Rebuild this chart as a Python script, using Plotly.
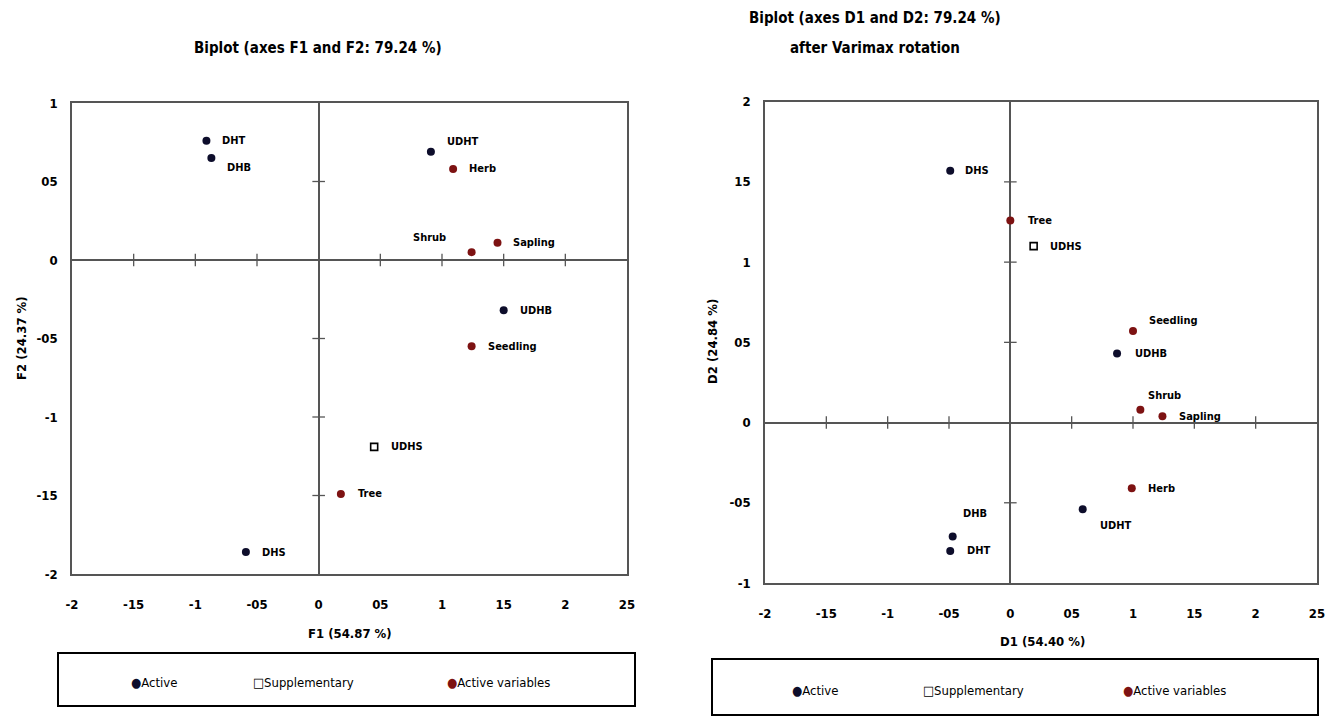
import plotly.graph_objects as go

W, H = 1338, 716

# ---------------- data: left biplot (F1, F2) ----------------
f_active_names = ["DHT", "DHB", "UDHT", "UDHB", "DHS"]
f_active_x = [-0.91, -0.87, 0.91, 1.50, -0.59]
f_active_y = [0.76, 0.65, 0.69, -0.32, -1.86]
f_supp_names = ["UDHS"]
f_supp_x = [0.45]
f_supp_y = [-1.19]
f_var_names = ["Herb", "Shrub", "Sapling", "Seedling", "Tree"]
f_var_x = [1.09, 1.24, 1.45, 1.24, 0.18]
f_var_y = [0.58, 0.05, 0.11, -0.55, -1.49]

# ---------------- data: right biplot (D1, D2) ----------------
d_active_names = ["DHS", "UDHB", "UDHT", "DHB", "DHT"]
d_active_x = [-0.49, 0.87, 0.59, -0.47, -0.49]
d_active_y = [1.57, 0.43, -0.54, -0.71, -0.80]
d_supp_names = ["UDHS"]
d_supp_x = [0.19]
d_supp_y = [1.10]
d_var_names = ["Tree", "Seedling", "Shrub", "Sapling", "Herb"]
d_var_x = [0.00, 1.00, 1.06, 1.24, 0.99]
d_var_y = [1.26, 0.57, 0.08, 0.04, -0.41]

# ---------------- tick labels ----------------
x_tick_vals = [-2, -1.5, -1, -0.5, 0, 0.5, 1, 1.5, 2, 2.5]
x_tick_text = ["-2", "-15", "-1", "-05", "0", "05", "1", "15", "2", "25"]
f_y_tick_vals = [-2, -1.5, -1, -0.5, 0, 0.5, 1]
f_y_tick_text = ["-2", "-15", "-1", "-05", "0", "05", "1"]
d_y_tick_vals = [-1, -0.5, 0, 0.5, 1, 1.5, 2]
d_y_tick_text = ["-1", "-05", "0", "05", "1", "15", "2"]

legend_labels = ["Active", "Supplementary", "Active variables"]

# ---------------- styles ----------------
FONT = "DejaVu Sans Condensed, Liberation Sans Narrow, Arial Narrow, sans-serif"
C_ACTIVE = "#0d0d2b"
C_VAR = "#7d1212"
C_AXIS = "#555555"

# label offsets (px): (xshift, yshift, xanchor)
f_offsets = {
    "DHT": (14, 0, "left"), "DHB": (14, -10, "left"), "UDHT": (14, 10, "left"),
    "UDHB": (14, 0, "left"), "DHS": (14, 0, "left"), "UDHS": (15, 0, "left"),
    "Herb": (14, 0, "left"), "Shrub": (-24, 15, "right"), "Sapling": (13, 0, "left"),
    "Seedling": (14, 0, "left"), "Tree": (15, 0, "left"),
}
d_offsets = {
    "DHS": (13, 0, "left"), "UDHB": (16, 0, "left"), "UDHT": (15, -16, "left"),
    "DHB": (8, 23, "left"), "DHT": (15, 0, "left"), "UDHS": (14, 0, "left"),
    "Tree": (16, 0, "left"), "Seedling": (14, 11, "left"), "Shrub": (6, 14, "left"),
    "Sapling": (15, 0, "left"), "Herb": (14, 0, "left"),
}

def px(x):
    return x / W

def py(y):
    return 1 - y / H

fig = go.Figure()

def add_panel(xa, ya, act, supp, var, yvals, offsets):
    xref = "x" if xa == "xaxis" else "x2"
    yref = "y" if ya == "yaxis" else "y2"
    # tick crosses on zero lines
    xt = [v for v in x_tick_vals if v not in (0, x_tick_vals[0], x_tick_vals[-1])]
    yt = [v for v in yvals if v not in (0, yvals[0], yvals[-1])]
    fig.add_trace(go.Scatter(x=xt, y=[0] * len(xt), xaxis=xref, yaxis=yref, mode="markers",
                             marker=dict(symbol="line-ns", size=9, line=dict(color=C_AXIS, width=1.3)),
                             hoverinfo="skip", showlegend=False))
    fig.add_trace(go.Scatter(x=[0] * len(yt), y=yt, xaxis=xref, yaxis=yref, mode="markers",
                             marker=dict(symbol="line-ew", size=9, line=dict(color=C_AXIS, width=1.3)),
                             hoverinfo="skip", showlegend=False))
    names, xs, ys = act
    fig.add_trace(go.Scatter(x=xs, y=ys, xaxis=xref, yaxis=yref, mode="markers",
                             marker=dict(color=C_ACTIVE, size=8), showlegend=False))
    snames, sx, sy = supp
    fig.add_trace(go.Scatter(x=sx, y=sy, xaxis=xref, yaxis=yref, mode="markers",
                             marker=dict(symbol="square-open", color="black", size=7,
                                         line=dict(width=1.6)), showlegend=False))
    vnames, vx, vy = var
    fig.add_trace(go.Scatter(x=vx, y=vy, xaxis=xref, yaxis=yref, mode="markers",
                             marker=dict(color=C_VAR, size=8), showlegend=False))
    for n, x, y in list(zip(names, xs, ys)) + list(zip(snames, sx, sy)) + list(zip(vnames, vx, vy)):
        dx, dy, anc = offsets[n]
        fig.add_annotation(x=x, y=y, xref=xref, yref=yref, text=n, showarrow=False,
                           xanchor=anc, yanchor="middle", xshift=dx, yshift=dy,
                           font=dict(family=FONT, size=11, color="black", weight="bold"))

add_panel("xaxis", "yaxis", (f_active_names, f_active_x, f_active_y),
          (f_supp_names, f_supp_x, f_supp_y), (f_var_names, f_var_x, f_var_y),
          f_y_tick_vals, f_offsets)
add_panel("xaxis2", "yaxis2", (d_active_names, d_active_x, d_active_y),
          (d_supp_names, d_supp_x, d_supp_y), (d_var_names, d_var_x, d_var_y),
          d_y_tick_vals, d_offsets)

tickfont = dict(family=FONT, size=13, color="black", weight="bold")
axis_common = dict(showline=True, mirror=True, linecolor=C_AXIS, linewidth=1.5,
                   showgrid=False, zeroline=True, zerolinecolor=C_AXIS, zerolinewidth=1.5,
                   ticks="", tickfont=tickfont, fixedrange=True, automargin=False)

fig.update_layout(
    width=W, height=H, margin=dict(l=0, r=0, t=0, b=0),
    paper_bgcolor="white", plot_bgcolor="white", showlegend=False,
    xaxis=dict(domain=[px(72), px(627)], range=[-2, 2.5], tickvals=x_tick_vals,
               ticktext=x_tick_text, anchor="y", ticklabelstandoff=18, **axis_common),
    yaxis=dict(domain=[py(574), py(103)], range=[-2, 1], tickvals=f_y_tick_vals,
               ticktext=f_y_tick_text, anchor="x", ticklabelstandoff=10, **axis_common),
    xaxis2=dict(domain=[px(765), px(1317)], range=[-2, 2.5], tickvals=x_tick_vals,
                ticktext=x_tick_text, anchor="y2", ticklabelstandoff=18, **axis_common),
    yaxis2=dict(domain=[py(583), py(101.7)], range=[-1, 2], tickvals=d_y_tick_vals,
                ticktext=d_y_tick_text, anchor="x2", ticklabelstandoff=10, **axis_common),
)

title_font = dict(family=FONT, size=15, color="black", weight="bold")
def paper_text(text, x, y, font, angle=0, xanchor="center"):
    fig.add_annotation(x=px(x), y=py(y), xref="paper", yref="paper", text=text,
                       showarrow=False, xanchor=xanchor, yanchor="middle",
                       textangle=angle, font=font)

paper_text("Biplot (axes F1 and F2: 79.24 %)", 318, 48, title_font)
paper_text("Biplot (axes D1 and D2: 79.24 %)", 875, 18, title_font)
paper_text("after Varimax rotation", 875, 48, title_font)

axt_font = dict(family=FONT, size=13, color="black", weight="bold")
paper_text("F1 (54.87 %)", 350, 633, axt_font)
paper_text("F2 (24.37 %)", 21, 338, axt_font, angle=-90)
paper_text("D1 (54.40 %)", 1042, 641, axt_font)
paper_text("D2 (24.84 %)", 712, 342, axt_font, angle=-90)

# legend boxes
fig.add_shape(type="rect", xref="paper", yref="paper", x0=px(58), x1=px(635),
              y0=py(706), y1=py(653), line=dict(color="black", width=2), fillcolor="white")
fig.add_shape(type="rect", xref="paper", yref="paper", x0=px(712), x1=px(1318),
              y0=py(715), y1=py(659), line=dict(color="black", width=2), fillcolor="white")

leg_font = dict(family=FONT, size=13, color="black")
def legend_items(xs, y):
    syms = [("●", C_ACTIVE), ("□", "black"), ("●", C_VAR)]
    for (s, c), lab, x in zip(syms, legend_labels, xs):
        paper_text(f"<span style='color:{c}'>{s}</span>{lab}", x, y, leg_font, xanchor="left")

legend_items([129, 251, 445], 682)
legend_items([790, 921, 1121], 690)

fig.write_html("out.html", config={"displayModeBar": False},
               post_script="document.body.style.margin='0px';document.body.style.overflow='hidden';")
